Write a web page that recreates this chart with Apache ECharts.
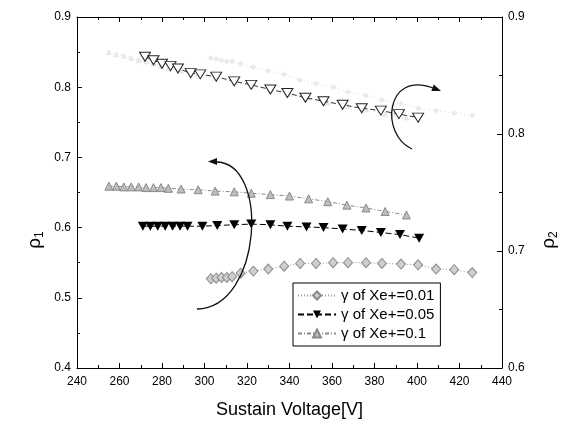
<!DOCTYPE html>
<html>
<head>
<meta charset="utf-8">
<script src="https://cdn.jsdelivr.net/npm/echarts@6/dist/echarts.min.js"></script>
<style>html,body{margin:0;padding:0;background:#fff}#c{width:574px;height:424px}</style>
</head>
<body>
<div id="c"></div>
<script>
// ---- data ----
const xTicks = [240, 260, 280, 300, 320, 340, 360, 380, 400, 420, 440];
const legendNames = ['γ of Xe+=0.01', 'γ of Xe+=0.05', 'γ of Xe+=0.1'];

// gamma = 0.01 (diamonds)
const xG001 = [303, 305.5, 308, 310.5, 313, 317, 323, 330, 337.5, 345, 352.5, 360.5, 367.5, 376, 383.5, 392.5, 400.5, 409, 417.5, 426];
const rho1G001 = [0.527, 0.528, 0.529, 0.529, 0.530, 0.535, 0.538, 0.541, 0.545, 0.549, 0.549, 0.550, 0.550, 0.550, 0.549, 0.548, 0.547, 0.541, 0.540, 0.536];
const rho2G001 = [0.865, 0.864, 0.863, 0.862, 0.862, 0.860, 0.857, 0.854, 0.851, 0.846, 0.843, 0.840, 0.836, 0.833, 0.829, 0.826, 0.822, 0.820, 0.818, 0.816];

// gamma = 0.05 (down triangles)
const xG005 = [271, 274.5, 278, 281.5, 285, 288.5, 292, 299, 306, 314, 322, 331, 339, 348, 356, 365, 374, 383, 392, 401];
const rho1G005 = [0.602, 0.602, 0.602, 0.602, 0.602, 0.602, 0.602, 0.602, 0.603, 0.604, 0.605, 0.604, 0.602, 0.601, 0.600, 0.598, 0.596, 0.593, 0.590, 0.585];
const xG005b = [272, 276, 280, 284, 287.5, 293.5, 298, 305.5, 314, 322, 331, 339, 347.5, 356, 365, 374, 383, 391.5, 400.5];
const rho2G005 = [0.866, 0.863, 0.860, 0.858, 0.856, 0.852, 0.851, 0.849, 0.845, 0.842, 0.838, 0.835, 0.831, 0.828, 0.825, 0.822, 0.820, 0.817, 0.814];

// gamma = 0.1 (up triangles)
const xG01 = [255, 258.5, 262, 265.5, 269, 272.5, 276, 279.5, 283, 289, 297, 305, 314, 322, 331, 340, 349, 358, 367, 376, 385, 395];
const rho1G01 = [0.659, 0.659, 0.658, 0.658, 0.658, 0.657, 0.657, 0.657, 0.656, 0.655, 0.654, 0.652, 0.651, 0.649, 0.647, 0.645, 0.641, 0.637, 0.632, 0.628, 0.623, 0.618];
const rho2G01 = [0.870, 0.868, 0.867, 0.865, 0.863, 0.862, 0.860, 0.858, 0.856, 0.854, 0.851, 0.848, 0.844, 0.841, 0.838, 0.834, 0.831, 0.827, 0.824, 0.821, 0.817, 0.814];

const zip = (xs, ys) => xs.map((x, i) => [x, ys[i]]);
const FONT = 'Liberation Sans, Arial, sans-serif';

const chart = echarts.init(document.getElementById('c'), null, {renderer: 'canvas'});

function arrowHead(tx, ty, fx, fy, len, half) {
  const dx = tx - fx, dy = ty - fy, L = Math.hypot(dx, dy);
  const ux = dx / L, uy = dy / L;
  const bx = tx - ux * len, by = ty - uy * len;
  return [[tx, ty], [bx - uy * half, by + ux * half], [bx + uy * half, by - ux * half]];
}

const axisCommon = {
  axisLine: {show: true, lineStyle: {color: '#000', width: 1}},
  axisTick: {show: true, inside: true, length: 5, lineStyle: {color: '#000'}},
  minorTick: {show: true, splitNumber: 2, length: 3, lineStyle: {color: '#000'}},
  splitLine: {show: false},
  axisLabel: {color: '#000', fontSize: 12, fontFamily: FONT}
};

const rhoRich = {
  r: {fontSize: 19, fontFamily: FONT, color: '#000'},
  s: {fontSize: 12, fontFamily: FONT, color: '#000', verticalAlign: 'bottom', padding: [9, 0, 0, 0]}
};

const option = {
  backgroundColor: '#fff',
  animation: false,
  grid: {left: 77, right: 72, top: 17, bottom: 56},
  legend: {
    data: legendNames,
    orient: 'vertical',
    left: 293, top: 283,
    itemWidth: 38, itemHeight: 10, itemGap: 4,
    padding: [5, 6, 5, 4],
    borderColor: '#000', borderWidth: 1,
    textStyle: {fontSize: 15, color: '#000', fontFamily: FONT},
    backgroundColor: '#fff'
  },
  xAxis: [
    Object.assign({}, axisCommon, {
      type: 'value', min: 240, max: 440, interval: 20, position: 'bottom',
      name: 'Sustain Voltage[V]', nameLocation: 'middle', nameGap: 33,
      nameTextStyle: {fontSize: 18, color: '#000', fontFamily: FONT},
      axisLabel: {color: '#000', fontSize: 12, fontFamily: FONT, margin: 8,
        formatter: v => xTicks.includes(v) ? String(v) : ''}
    }),
    Object.assign({}, axisCommon, {
      type: 'value', min: 240, max: 440, interval: 20, position: 'top',
      axisLabel: {show: false}
    })
  ],
  yAxis: [
    Object.assign({}, axisCommon, {
      type: 'value', min: 0.4, max: 0.9, interval: 0.1, position: 'left',
      axisLabel: {color: '#000', fontSize: 12, fontFamily: FONT, margin: 6, formatter: v => v.toFixed(1)}
    }),
    Object.assign({}, axisCommon, {
      type: 'value', min: 0.6, max: 0.9, interval: 0.1, position: 'right',
      axisLabel: {color: '#000', fontSize: 12, fontFamily: FONT, margin: 6, formatter: v => v.toFixed(1)}
    })
  ],
  series: [
    // faint rho2 series
    {
      name: 'rho2 0.1', type: 'line', xAxisIndex: 0, yAxisIndex: 1,
      data: zip(xG01, rho2G01), symbol: 'triangle', symbolSize: 5,
      itemStyle: {color: '#ececec', borderColor: '#dadada', borderWidth: 0.5},
      lineStyle: {color: '#d4d4d4', width: 1, type: [1, 3]}, z: 1
    },
    {
      name: 'rho2 0.01', type: 'line', xAxisIndex: 0, yAxisIndex: 1,
      data: zip(xG001, rho2G001), symbol: 'diamond', symbolSize: 5,
      itemStyle: {color: '#ececec', borderColor: '#dadada', borderWidth: 0.5},
      lineStyle: {color: '#d4d4d4', width: 1, type: [1, 3]}, z: 1
    },
    {
      name: 'rho2 0.05', type: 'line', xAxisIndex: 0, yAxisIndex: 1,
      data: zip(xG005b, rho2G005), symbol: 'triangle', symbolRotate: 180, symbolSize: [11, 9],
      itemStyle: {color: '#fff', borderColor: '#222', borderWidth: 1},
      lineStyle: {color: '#333', width: 1, type: [5, 3]}, z: 3
    },
    // rho1 series
    {
      name: legendNames[0], type: 'line', xAxisIndex: 0, yAxisIndex: 0,
      data: zip(xG001, rho1G001), symbol: 'diamond', symbolSize: [9, 10],
      itemStyle: {color: '#cfcfcf', borderColor: '#8a8a8a', borderWidth: 1},
      lineStyle: {color: '#9a9a9a', width: 1, type: [1, 2]}, z: 3
    },
    {
      name: legendNames[1], type: 'line', xAxisIndex: 0, yAxisIndex: 0,
      data: zip(xG005, rho1G005), symbol: 'triangle', symbolRotate: 180, symbolSize: [10, 9],
      itemStyle: {color: '#000', borderColor: '#000', borderWidth: 0},
      lineStyle: {color: '#000', width: 1, type: [6, 3]}, z: 3
    },
    {
      name: legendNames[2], type: 'line', xAxisIndex: 0, yAxisIndex: 0,
      data: zip(xG01, rho1G01), symbol: 'triangle', symbolSize: [8, 8],
      itemStyle: {color: '#bdbdbd', borderColor: '#8a8a8a', borderWidth: 1},
      lineStyle: {color: '#8a8a8a', width: 1, type: [4, 2, 1, 2]}, z: 3
    }
  ],
  graphic: [
    // axis titles
    {type: 'text', x: 35, y: 240, rotation: Math.PI / 2,
     style: {text: '{r|ρ}{s|1}', rich: rhoRich, align: 'center', verticalAlign: 'middle', fill: '#000'}},
    {type: 'text', x: 549, y: 240, rotation: Math.PI / 2,
     style: {text: '{r|ρ}{s|2}', rich: rhoRich, align: 'center', verticalAlign: 'middle', fill: '#000'}},
    // left curved arrow (points to rho1 axis)
    {type: 'bezierCurve', shape: {x1: 197, y1: 309, cpx1: 262, cpy1: 308, cpx2: 270, cpy2: 162, x2: 216, y2: 162},
     style: {stroke: '#111', lineWidth: 1.3, fill: null}, z: 10},
    {type: 'polygon', shape: {points: arrowHead(208, 161.5, 270, 162, 9, 3.5)}, style: {fill: '#111'}, z: 10},
    // right curved arrow (points to rho2 axis)
    {type: 'bezierCurve', shape: {x1: 412, y1: 149, cpx1: 380, cpy1: 135, cpx2: 385, cpy2: 70, x2: 433, y2: 88},
     style: {stroke: '#111', lineWidth: 1.3, fill: null}, z: 10},
    {type: 'polygon', shape: {points: arrowHead(441, 91, 385, 70, 9, 3.5)}, style: {fill: '#111'}, z: 10}
  ]
};
chart.setOption(option);
</script>
</body>
</html>
